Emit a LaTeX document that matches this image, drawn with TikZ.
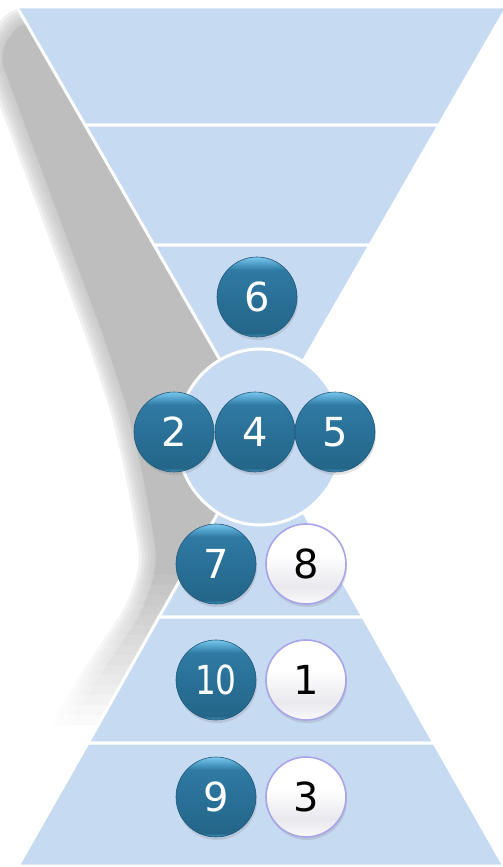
\documentclass[tikz,border=0pt]{standalone}
\usepackage{fontspec}
\setmainfont{DejaVu Sans}
\usetikzlibrary{shadows}
\definecolor{bandblue}{RGB}{198,218,241}
\definecolor{shadowgray}{RGB}{190,190,190}
\definecolor{db1}{RGB}{70,145,185}
\definecolor{db2}{RGB}{36,102,138}
\definecolor{db3}{RGB}{40,110,148}
\definecolor{db4}{RGB}{47,122,163}
\definecolor{db5}{RGB}{90,170,212}
\definecolor{db6}{RGB}{125,198,234}
\definecolor{dbedge}{RGB}{30,88,122}
\definecolor{wb1}{RGB}{250,250,252}
\definecolor{wb2}{RGB}{232,232,238}
\definecolor{lavender}{RGB}{168,164,232}
\pgfdeclareverticalshading{darkballshade}{100bp}{color(0bp)=(db1); color(25bp)=(db1); color(27.5bp)=(db2); color(45bp)=(db3); color(67bp)=(db4); color(72bp)=(db5); color(75bp)=(db6); color(100bp)=(db6)}
\pgfdeclareverticalshading{whiteballshade}{100bp}{color(0bp)=(wb1); color(25bp)=(wb1); color(36bp)=(wb2); color(55bp)=(white); color(100bp)=(white)}
\newcommand\ballfont{\fontsize{40}{40}\selectfont}
\tikzset{
  band/.style={fill=bandblue, draw=white, line width=3pt, line join=round},
  ballbase/.style={circle, minimum size=80pt, inner sep=0pt, font=\ballfont,
    drop shadow={opacity=0.22, shadow xshift=1pt, shadow yshift=-3pt}},
  darkball/.style={ballbase, shading=darkballshade, draw=dbedge, line width=0.6pt, text=white},
  whiteball/.style={ballbase, shading=whiteballshade, draw=lavender, line width=1.6pt, text=black},
  shadowpath/.style={rounded corners=18pt, line join=round},
}
\begin{document}
\begin{tikzpicture}[x=1pt, y=-1pt]
\useasboundingbox (0,0) rectangle (503,867);
\fill[white] (0,0) rectangle (503,867);
% shadow
\fill[shadowgray, shadowpath] (26,16) -- (-2,52) -- (105,340) -- (128,410) -- (142,470) -- (152,525) -- (158,565) -- (142,613) -- (100,675) -- (60,740) -- (200,740) -- (262,437) -- cycle;
\foreach \w in {4,10,16,22,28,34}{
  \draw[shadowgray, opacity=0.22, line width=\w pt, shadowpath] (26,16) -- (-2,52) -- (105,340) -- (128,410) -- (142,470) -- (152,525) -- (158,565) -- (142,613) -- (100,675) -- (60,740) -- (200,740) -- (262,437) -- cycle;
}
\foreach \i in {0,...,23}{
  \pgfmathsetmacro\op{min(1,\i/16)}
  \fill[white, opacity=\op] (-20,{565+\i*10}) rectangle (262,{575+\i*10});
}
% upper funnel
\path[band] (17,7) -- (507,7) -- (439,125) -- (85,125) -- cycle;
\path[band] (85,125) -- (439,125) -- (370,245) -- (154,245) -- cycle;
\path[band] (154,245) -- (370,245) -- (262,433) -- cycle;
% lower funnel
\path[band] (261,437) -- (363,617) -- (159,617) -- cycle;
\path[band] (159,617) -- (363,617) -- (434,743) -- (88,743) -- cycle;
\path[band] (88,743) -- (434,743) -- (504,866) -- (18,866) -- cycle;
% circle
\path[band] (260,437) ellipse [x radius=83, y radius=88];
% balls
\node[darkball] (b6) at (257,297) {6};
\node[darkball] (b2) at (174,432) {2};
\node[darkball] (b4) at (255,432) {4};
\node[darkball] (b5) at (335,432) {5};
\node[darkball] (b7) at (216,564) {7};
\node[whiteball] (b8) at (306,564) {8};
\node[darkball] (b10) at (216,680) {\scalebox{0.82}[1]{10}};
\node[whiteball] (b1) at (306,680) {1};
\node[darkball] (b9) at (216,797) {9};
\node[whiteball] (b3) at (306,797) {3};
\end{tikzpicture}
\end{document}
